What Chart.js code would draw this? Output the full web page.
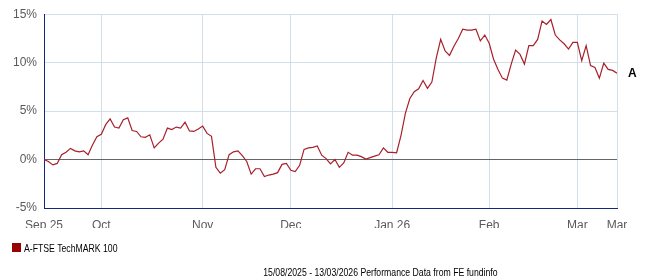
<!DOCTYPE html>
<html lang="en">

<head>
    <meta charset="UTF-8">
    <title>A-FTSE TechMARK 100</title>
    <style>
        html,
        body {
            margin: 0;
            padding: 0;
            background: #fff;
        }

        .wrap {
            position: relative;
            width: 647px;
            height: 280px;
            font-family: "Liberation Sans", Arial, sans-serif;
        }

        .legend {
            position: absolute;
            left: 12px;
            top: 242px;
            height: 11px;
            display: flex;
            align-items: center;
            font-size: 11px;
            color: #000;
            white-space: nowrap;
        }

        .legend .box {
            width: 9px;
            height: 9px;
            background: #990000;
            margin-right: 3px;
        }

        .legend .txt {
            display: inline-block;
            transform: scaleX(0.79);
            transform-origin: left center;
        }

        .footer {
            position: absolute;
            right: 149px;
            top: 266px;
            font-size: 11px;
            color: #000;
            white-space: nowrap;
            transform: scaleX(0.79);
            transform-origin: right center;
        }
    </style>
</head>

<body>
    <div class="wrap">
        <canvas id="perfChart"></canvas>
        <div class="legend"><div class="box"></div><span class="txt" id="legendText"></span></div>
        <div class="footer" id="footer"></div>
    </div>
</body>

<script src="https://cdn.jsdelivr.net/npm/chart.js@4.4.6/dist/chart.umd.min.js"></script>
<script>
    const seriesName = 'A-FTSE TechMARK 100';
    const endLabelText = 'A';
    const footerText = '15/08/2025 - 13/03/2026 Performance Data from FE fundinfo';

    // one value per weekday, % growth
    const values = [
        0, -0.2, -0.55, -0.4, 0.5, 0.75, 1.15, 0.9, 0.8, 0.9, 0.5, 1.5, 2.35, 2.6, 3.6, 4.2, 3.35, 3.25, 4.1, 4.3, 3.0, 2.9,
        2.35, 2.3, 2.55, 1.2, 1.7, 2.1, 3.25, 3.1, 3.35, 3.25, 3.85, 2.95, 2.9, 3.15, 3.45, 2.7, 2.4, -0.8, -1.4, -1.05, 0.5, 0.8,
        0.9, 0.4, -0.2, -1.5, -0.95, -0.95, -1.75, -1.6, -1.5, -1.35, -0.5, -0.4, -1.1, -1.25, -0.6, 1.05, 1.2, 1.25, 1.4, 0.45, 0.1, -0.45,
        0, -0.8, -0.35, 0.75, 0.45, 0.45, 0.3, 0.05, 0.2, 0.35, 0.5, 1.2, 0.75, 0.75, 0.7, 2.5, 4.8, 6.3, 7.0, 7.3, 8.15, 7.35,
        8.0, 10.5, 12.4, 11.2, 10.75, 11.7, 12.5, 13.45, 13.35, 13.35, 13.45, 12.25, 12.85, 12.0, 10.35, 9.3, 8.4, 8.2, 9.85, 11.3, 10.85, 9.85,
        11.75, 11.75, 12.4, 14.3, 13.95, 14.45, 12.85, 12.35, 11.95, 11.4, 12.1, 12.1, 10.2, 11.75, 9.7, 9.5, 8.4, 9.95, 9.3, 9.2, 8.9
    ];

    // weekday index where each x label sits
    const tickPositions = [0, 13, 36, 56, 79, 101, 121, 130];
    const tickLabels = ['Sep 25', 'Oct', 'Nov', 'Dec', 'Jan 26', 'Feb', 'Mar', 'Mar'];
    const yTicks = [-5, 0, 5, 10, 15];

    document.getElementById('legendText').innerText = seriesName;
    document.getElementById('footer').innerText = footerText;

    const gridColor = '#d3dfe8';
    const axisColor = '#13287a';
    const labelFont = { family: '"Liberation Sans", Arial, sans-serif', size: 12 };

    const endLabel = {
        id: 'endLabel',
        afterDatasetsDraw(chart) {
            const { ctx, chartArea, scales } = chart;
            const y = scales.y.getPixelForValue(values[values.length - 1]);
            ctx.save();
            ctx.font = 'bold 12px "Liberation Sans", Arial, sans-serif';
            ctx.fillStyle = '#000';
            ctx.textBaseline = 'middle';
            ctx.fillText(endLabelText, chartArea.right + 11, y);
            ctx.restore();
        }
    };

    const chart = new Chart(document.getElementById('perfChart'), {
        type: 'line',
        data: {
            datasets: [{
                label: seriesName,
                data: values.map((v, i) => ({ x: i, y: v })),
                borderColor: '#a8202a',
                borderWidth: 1.2,
                pointRadius: 0,
                tension: 0,
                fill: false,
            }]
        },
        options: {
            responsive: true,
            maintainAspectRatio: false,
            animation: false,
            layout: { padding: { left: 0, top: 10, right: 30, bottom: 52 } },
            scales: {
                x: {
                    type: 'linear',
                    min: 0,
                    max: values.length - 1,
                    afterBuildTicks: (s) => { s.ticks = tickPositions.map(v => ({ value: v })); },
                    afterFit: (s) => { s.height = 20; },
                    ticks: {
                        callback: (v) => tickLabels[tickPositions.indexOf(v)] ?? '',
                        autoSkip: false,
                        maxRotation: 0,
                        padding: 10,
                        color: '#5a5a5a',
                        font: labelFont,
                    },
                    grid: { color: gridColor, drawTicks: false },
                    border: { color: axisColor },
                },
                y: {
                    min: -5,
                    max: 15,
                    afterBuildTicks: (s) => { s.ticks = yTicks.map(v => ({ value: v })); },
                    afterFit: (s) => { s.width = 44; },
                    ticks: {
                        callback: (v) => v + '%',
                        padding: 7,
                        color: '#5a5a5a',
                        font: labelFont,
                    },
                    grid: {
                        color: (ctx) => ctx.tick && ctx.tick.value === 0 ? '#666' : gridColor,
                        drawTicks: false,
                    },
                    border: { color: axisColor },
                }
            },
            plugins: {
                legend: { display: false },
                tooltip: { enabled: false },
            },
        },
        plugins: [endLabel],
    });
</script>

</html>
